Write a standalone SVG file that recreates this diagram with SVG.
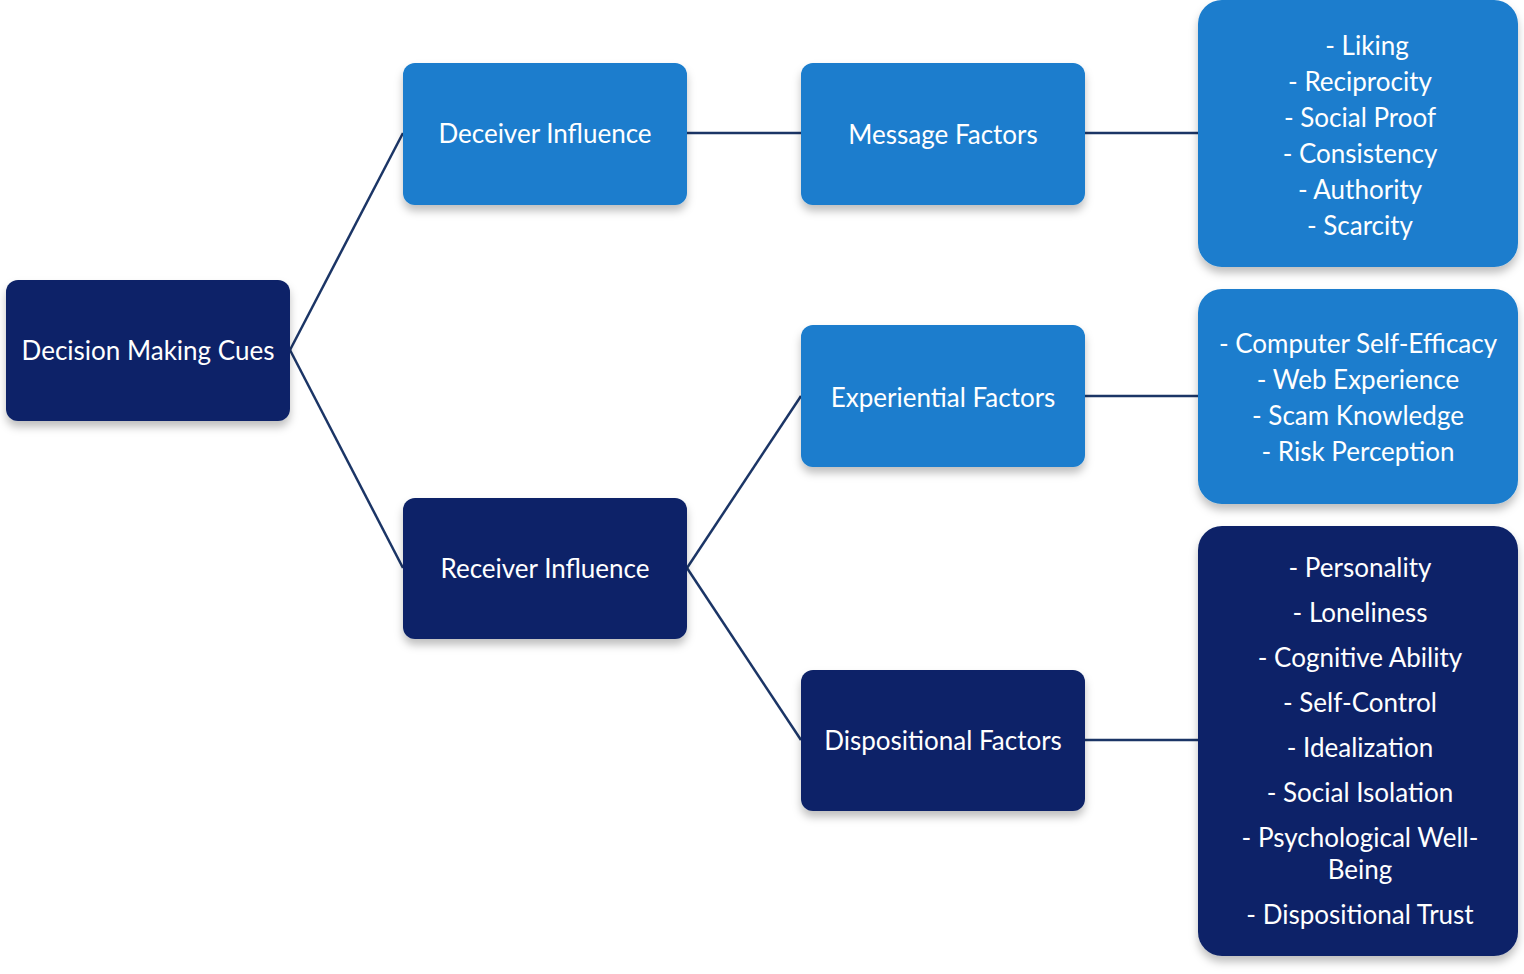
<svg xmlns="http://www.w3.org/2000/svg" width="1524" height="974" viewBox="0 0 1524 974">
<defs>
<filter id="sh" x="-10%" y="-10%" width="120%" height="130%"><feDropShadow dx="0" dy="6" stdDeviation="4" flood-color="#000" flood-opacity="0.25"/></filter>
<style>
.d{fill:#0c2467;filter:url(#sh)}
.b{fill:#1a7dcd;filter:url(#sh)}
text{font-family:Lato,"Open Sans","Liberation Sans",sans-serif;font-size:26px;fill:#fff;text-anchor:middle;dominant-baseline:central}
.c line{stroke:#1b3566;stroke-width:2.5}
</style>
</defs>
<rect width="1524" height="974" fill="#fff"/>
<g class="c">
<line x1="290" y1="350" x2="403" y2="133"/>
<line x1="290" y1="350" x2="403" y2="568"/>
<line x1="687" y1="133" x2="801" y2="133"/>
<line x1="687" y1="568" x2="801" y2="396"/>
<line x1="687" y1="568" x2="801" y2="740"/>
<line x1="1085" y1="133" x2="1198" y2="133"/>
<line x1="1085" y1="396" x2="1198" y2="396"/>
<line x1="1085" y1="740" x2="1198" y2="740"/>
</g>
<g id="n1"><rect class="d" x="6" y="280" width="284" height="141" rx="12"/><text x="148" y="350">Decision Making Cues</text></g>
<g id="n2"><rect class="b" x="403" y="63" width="284" height="142" rx="12"/><text x="545" y="133">Deceiver Influence</text></g>
<g id="n3"><rect class="d" x="403" y="498" width="284" height="141" rx="12"/><text x="545" y="568">Receiver Influence</text></g>
<g id="n4"><rect class="b" x="801" y="63" width="284" height="142" rx="12"/><text x="943" y="134">Message Factors</text></g>
<g id="n5"><rect class="b" x="801" y="325" width="284" height="142" rx="12"/><text x="943" y="397">Experiential Factors</text></g>
<g id="n6"><rect class="d" x="801" y="670" width="284" height="141" rx="12"/><text x="943" y="740">Dispositional Factors</text></g>
<g id="n7"><rect class="b" x="1198" y="0" width="320" height="267" rx="24"/>
<text x="1367" y="45">- Liking</text><text x="1360" y="81">- Reciprocity</text><text x="1360" y="117">- Social Proof</text><text x="1360" y="153">- Consistency</text><text x="1360" y="189">- Authority</text><text x="1360" y="225">- Scarcity</text></g>
<g id="n8"><rect class="b" x="1198" y="289" width="320" height="215" rx="24"/>
<text x="1358" y="343">- Computer Self-Efficacy</text><text x="1358" y="379">- Web Experience</text><text x="1358" y="415">- Scam Knowledge</text><text x="1358" y="451">- Risk Perception</text></g>
<g id="n9"><rect class="d" x="1198" y="526" width="320" height="430" rx="24"/>
<text x="1360" y="567">- Personality</text><text x="1360" y="612">- Loneliness</text><text x="1360" y="657">- Cognitive Ability</text><text x="1360" y="702">- Self-Control</text><text x="1360" y="747">- Idealization</text><text x="1360" y="792">- Social Isolation</text><text x="1360" y="837">- Psychological Well-</text><text x="1360" y="869">Being</text><text x="1360" y="914">- Dispositional Trust</text></g>
</svg>
